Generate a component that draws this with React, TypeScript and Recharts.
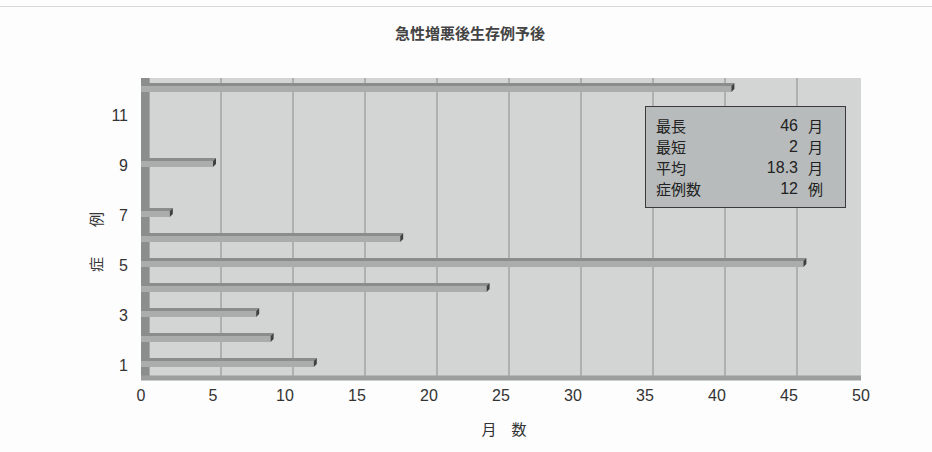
import { BarChart, Bar, XAxis, YAxis, CartesianGrid, ReferenceArea } from 'recharts';

const cases = ['1', '2', '3', '4', '5', '6', '7', '8', '9', '10', '11', '12'];
const months = [12, 9, 8, 24, 46, 18, 2, 0, 5, 0, 0, 41];
const xTicks = [0, 5, 10, 15, 20, 25, 30, 35, 40, 45, 50];

const statLabels = ['最長', '最短', '平均', '症例数'];
const statValues = ['46', '2', '18.3', '12'];
const statUnits = ['月', '月', '月', '例'];

const data = cases.map((c, i) => ({ case: c, months: months[i] }));

const CJK = '"Noto Sans CJK JP", "Noto Sans", sans-serif';
const NUM = '"Liberation Sans Narrow", "Liberation Sans", Arial, sans-serif';

const DEPTH = 3;

function Bar3D(props: any) {
  const { x, width, height } = props;
  const y = props.y - 2;
  if (!width || width <= 0) return null;
  const d = DEPTH;
  return (
    <g>
      <polygon
        points={`${x},${y} ${x + d},${y - d} ${x + width + d},${y - d} ${x + width},${y}`}
        fill="#8b8d8d"
      />
      <rect x={x} y={y} width={width} height={height} fill="#abadad" />
      <polygon
        points={`${x + width},${y} ${x + width + d},${y - d} ${x + width + d},${y + height - d} ${x + width},${y + height}`}
        fill="#3f4141"
      />
    </g>
  );
}

export default function App() {
  return (
    <div style={{ position: 'absolute', left: 0, top: 0, width: 932, height: 452, background: '#fdfdfd', fontFamily: CJK }}>
      <div style={{ position: 'absolute', left: 0, top: 6, width: 932, borderTop: '1px solid #d8d8d8' }} />
      <div style={{ position: 'absolute', left: 0, width: 940, top: 22, textAlign: 'center', fontSize: 15, fontWeight: 600, color: '#444' }}>
        急性増悪後生存例予後
      </div>
      <BarChart
        width={932}
        height={452}
        data={data}
        layout="vertical"
        margin={{ top: 78, right: 71, bottom: 44, left: 111 }}
        barSize={6}
      >
        <CartesianGrid
          horizontal={false}
          fill="#d3d5d5"
          stroke="#8a8c8c"
          fillOpacity={1}
          verticalCoordinatesGenerator={({ offset }: any) =>
            xTicks.slice(1, -1).map((t) => offset.left + (t / 50) * offset.width + 8)
          }
        />
        <ReferenceArea x1={0} x2={0.6} fill="#8c8e8e" fillOpacity={1} stroke="none" ifOverflow="visible" />
        <XAxis
          type="number"
          dataKey="months"
          domain={[0, 50]}
          ticks={xTicks}
          interval={0}
          tickLine={false}
          axisLine={{ stroke: '#9c9e9e', strokeWidth: 5 }}
          tickMargin={6}
          tick={{ fontSize: 16, fill: '#333', fontFamily: NUM }}
          label={{ value: '月\u3000数', position: 'bottom', offset: 16, dx: 3, fontSize: 15, fill: '#333', fontFamily: CJK }}
        />
        <YAxis
          type="category"
          dataKey="case"
          reversed
          interval={1}
          width={30}
          tickLine={false}
          axisLine={false}
          tickMargin={7}
          tick={{ fontSize: 16, fill: '#333', fontFamily: NUM }}
          label={{ value: '症\u3000\u3000例', angle: -90, position: 'left', offset: 14, dy: -16, fontSize: 15, fill: '#333', fontFamily: CJK }}
        />
        <Bar dataKey="months" shape={<Bar3D />} isAnimationActive={false} />
      </BarChart>
      <div
        style={{
          position: 'absolute',
          left: 645,
          top: 106,
          width: 201,
          height: 102,
          background: '#b7bbbb',
          border: '1px solid #3a3a3a',
          fontSize: 15,
          color: '#222',
          lineHeight: '21px',
          paddingTop: 8,
          boxSizing: 'border-box',
        }}
      >
        {statLabels.map((label, i) => (
          <div key={label} style={{ position: 'relative', height: 21 }}>
            <span style={{ position: 'absolute', left: 10 }}>{label}</span>
            <span style={{ position: 'absolute', right: 47, fontFamily: NUM, fontSize: 16 }}>{statValues[i]}</span>
            <span style={{ position: 'absolute', left: 162 }}>{statUnits[i]}</span>
          </div>
        ))}
      </div>
    </div>
  );
}
